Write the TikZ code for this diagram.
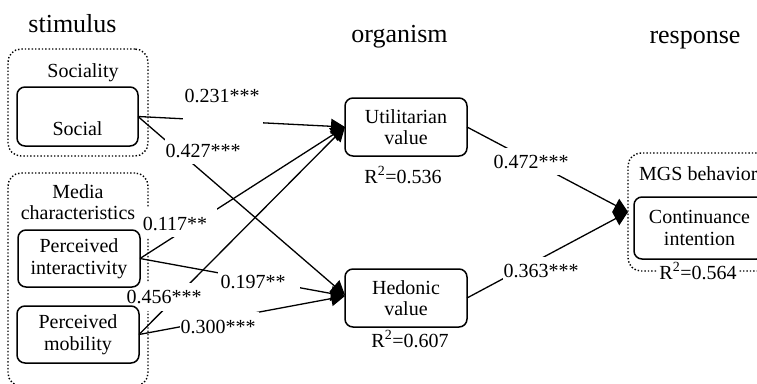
\documentclass[tikz,border=0pt]{standalone}
\usepackage{fontspec}
\setmainfont{Liberation Serif}
\usetikzlibrary{arrows.meta,backgrounds}
\begin{document}
\begin{tikzpicture}[x=1pt,y=-1pt,
  txt/.style={font=\fontsize{20}{21.5}\selectfont, inner sep=0pt, anchor=base},
  head/.style={font=\fontsize{26}{28}\selectfont, inner sep=0pt, anchor=base},
  varbox/.style={draw, line width=1.5pt, rounded corners=8pt, inner sep=0pt, outer sep=0pt,
    align=center, font=\fontsize{20}{21.5}\selectfont},
  groupbox/.style={draw, dotted, line width=1.4pt, rounded corners=13pt, inner sep=0pt, outer sep=0pt},
  conn/.style={line width=1.3pt, -{Triangle[length=14pt,width=15pt]}},
  mask/.style={fill=white}
]
\useasboundingbox (0,0) rectangle (757,383);
\clip (0,0) rectangle (757,383);

% headers
\node[head] (hstim) at (72.5,32) {stimulus};
\node[head] (horg) at (399.5,42) {organism};
\node[head] (hresp) at (695,43) {response};

% variable boxes
\node[varbox, minimum width=121pt, minimum height=59pt] (S) at (77.5,116.5) {};
\node[txt] (Stext) at (77.5,135) {Social};
\node[varbox, minimum width=122pt, minimum height=57pt] (PI) at (79,258.5) {Perceived\\interactivity};
\node[varbox, minimum width=122pt, minimum height=57pt] (PM) at (78,334.5) {Perceived\\mobility};
\node[varbox, minimum width=122pt, minimum height=58pt] (U) at (406,127) {Utilitarian\\value};
\node[varbox, minimum width=122pt, minimum height=58pt] (H) at (406,298) {Hedonic\\value};
\node[varbox, minimum width=131pt, minimum height=62pt] (C) at (699.5,228) {Continuance\\intention};

% group titles
\node[txt] (gsoc) at (83,77) {Sociality};
\node[txt] (gmed1) at (78,198) {Media};
\node[txt] (gmed2) at (78,219) {characteristics};
\node[txt, anchor=base west] (gmgs) at (639,180) {MGS behavior};

% R squared
\node[txt] (r1) at (403,183) {R\textsuperscript{2}=0.536};
\node[txt] (r2) at (410,347) {R\textsuperscript{2}=0.607};
\node[txt] (r3) at (698,279) {R\textsuperscript{2}=0.564};

% path coefficients
\node[txt] (l1) at (222,102) {0.231***};
\node[txt] (l2) at (203,157) {0.427***};
\node[txt] (l3) at (175,230) {0.117**};
\node[txt] (l4) at (253,288) {0.197**};
\node[txt] (l5) at (164,303) {0.456***};
\node[txt] (l6) at (218,333) {0.300***};
\node[txt] (l7) at (531,168) {0.472***};
\node[txt] (l8) at (541,277) {0.363***};

\begin{pgfonlayer}{background}
  \node[groupbox, minimum width=140pt, minimum height=107pt] (GS) at (78,102.5) {};
  \node[groupbox, minimum width=140pt, minimum height=213pt] (GM) at (78,279.5) {};
  \node[groupbox, minimum width=162pt, minimum height=118pt] (GB) at (709,212) {};

  \draw[conn] (S.east) -- (U.west);
  \draw[conn] (S.east) -- ([yshift=3pt]H.west);
  \draw[conn] (PI.east) -- (U.west);
  \draw[conn] (PI.east) -- ([yshift=2pt]H.west);
  \draw[conn] (PM.east) -- (U.west);
  \draw[conn] (PM.east) -- ([yshift=2pt]H.west);
  \draw[conn] (U.east) -- (GB.west);
  \draw[conn] (H.east) -- (GB.west);

  \fill[mask] (183,88) rectangle (263,124);
  \fill[mask] (165,137) rectangle (241,164);
  \fill[mask] (141,208) rectangle (217,237);
  \fill[mask] (218,271) rectangle (300,292);
  \fill[mask] (141,283) rectangle (204,311);
  \fill[mask] (180,312) rectangle (259,338);
  \fill[mask] (492,148) rectangle (570,175);
  \fill[mask] (503,257) rectangle (580,282);
  \fill[mask] (657,263) rectangle (738,285);
\end{pgfonlayer}
\end{tikzpicture}
\end{document}
